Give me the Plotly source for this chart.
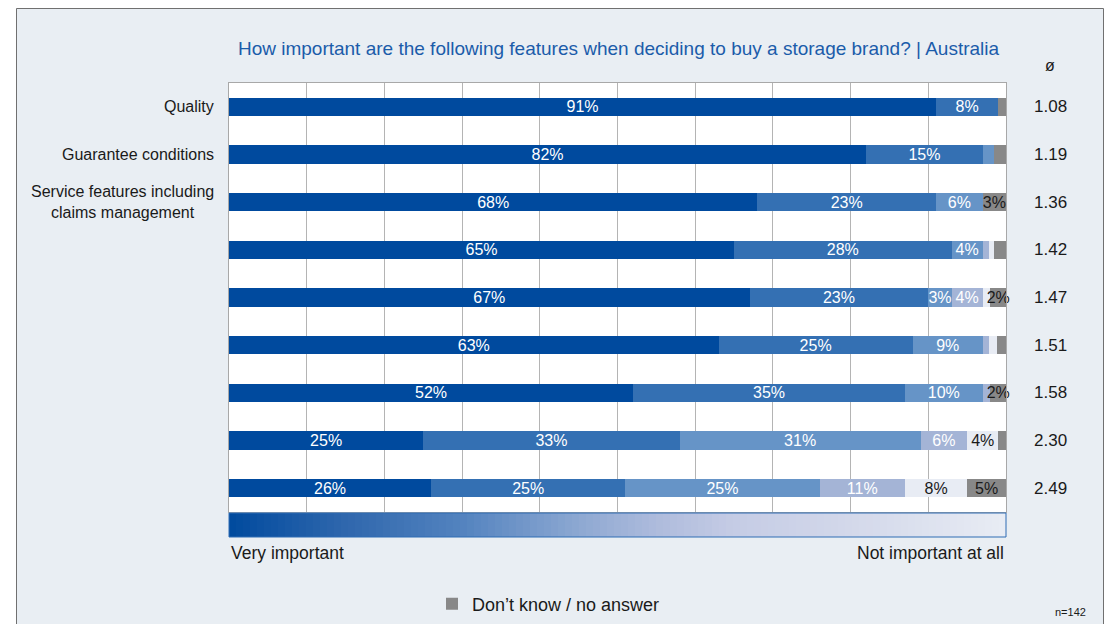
import plotly.graph_objects as go

# Survey data (share of respondents, %)
features = ["Quality", "Guarantee conditions",
            "Service features including<br>claims management",
            "", "", "", "", "", ""]
very_important = [91, 82, 68, 65, 67, 63, 52, 25, 26]
level_2 = [8, 15, 23, 28, 23, 25, 35, 33, 25]
level_3 = [0, 1.5, 6, 4, 3, 9, 10, 31, 25]
level_4 = [0, 0, 0, 0.8, 4, 0.8, 1, 6, 11]
not_important = [0, 0, 0, 0.7, 1, 1.0, 0, 4, 8]
dont_know = [1, 1.5, 3, 1.5, 2, 1.2, 2, 1, 5]
mean_scores = ["1.08", "1.19", "1.36", "1.42", "1.47", "1.51", "1.58", "2.30", "2.49"]

title_text = ("How important are the following features when deciding to buy "
              "a storage brand? | Australia")
legend_name = "Don\u2019t know / no answer"
sample_note = "n=142"

W, H = 1106, 624
L, R, T, B = 229, 100, 83, 112
PW, PH = W - L - R, H - T - B
FONT = "Liberation Sans, Arial, sans-serif"
PANEL = "#E9EEF3"


def xp(px):
    return (px - L) / PW


def yp(py):
    return (H - B - py) / PH


rows = list(range(len(features)))

series = [
    (very_important, "#004A9E", "white", "Very important"),
    (level_2, "#3470B3", "white", "2"),
    (level_3, "#6694C7", "white", "3"),
    (level_4, "#A4B4D6", "white", "4"),
    (not_important, "#E8ECF4", "#1a1a1a", "Not important at all"),
    (dont_know, "#888888", "#1a1a1a", legend_name),
]

fig = go.Figure()
for vals, color, tcolor, name in series:
    fig.add_trace(go.Bar(
        x=vals, y=rows, orientation="h", name=name,
        marker=dict(color=color, line=dict(width=0)),
        text=[f"{v:.0f}%" if v >= 2 else "" for v in vals],
        textposition="inside", insidetextanchor="middle", textangle=0,
        textfont=dict(family=FONT, size=16, color=tcolor),
        cliponaxis=False,
        showlegend=(name == legend_name),
        hoverinfo="skip",
    ))

fig.update_layout(
    width=W, height=H,
    margin=dict(l=L, r=R, t=T, b=B, pad=0, autoexpand=False),
    barmode="stack", bargap=0.615,
    paper_bgcolor=PANEL, plot_bgcolor="white",
    font=dict(family=FONT, size=16, color="#1a1a1a"),
    uniformtext=dict(minsize=16, mode="show"),
    title=dict(text=title_text, x=xp(618.5), xref="paper", xanchor="center",
               y=1 - 48 / H, yanchor="middle",
               font=dict(family=FONT, size=19, color="#1B5CAA")),
    xaxis=dict(range=[0, 100], dtick=10, showgrid=True, gridcolor="#B4B4B4",
               gridwidth=1, showticklabels=False, zeroline=False,
               showline=True, linecolor="#A8A8A8", mirror=True, ticks=""),
    yaxis=dict(range=[len(features) - 0.5, -0.5], showticklabels=False,
               showgrid=False, zeroline=False, showline=True,
               linecolor="#A8A8A8", mirror=True, ticks=""),
    legend=dict(orientation="h", x=xp(432), y=yp(604), xanchor="left",
                yanchor="middle", bgcolor="rgba(0,0,0,0)",
                font=dict(family=FONT, size=18, color="#1a1a1a"),
                itemwidth=30),
)

# Category labels and mean scores
for i, (lab, m) in enumerate(zip(features, mean_scores)):
    if lab:
        fig.add_annotation(x=xp(216), y=i, xref="paper", yref="y", text=lab,
                           xanchor="right", yanchor="middle", align="center",
                           showarrow=False, font=dict(size=16, color="#1a1a1a"))
    fig.add_annotation(x=xp(1050), y=i, xref="paper", yref="y", text=m,
                       xanchor="center", yanchor="middle", showarrow=False,
                       font=dict(size=17, color="#1a1a1a"))

fig.add_annotation(x=xp(1050), y=yp(65), xref="paper", yref="paper", text="\u00f8",
                   xanchor="center", yanchor="middle", showarrow=False,
                   font=dict(size=16, color="#1a1a1a"))

# Scale labels under the gradient bar
fig.add_annotation(x=xp(229), y=yp(553), xref="paper", yref="paper",
                   text="Very important", xanchor="left", yanchor="middle",
                   showarrow=False, font=dict(size=17.5, color="#1a1a1a"))
fig.add_annotation(x=xp(1006), y=yp(553), xref="paper", yref="paper",
                   text="Not important at all", xanchor="right", yanchor="middle",
                   showarrow=False, font=dict(size=17.5, color="#1a1a1a"))
fig.add_annotation(x=xp(1088), y=yp(612), xref="paper", yref="paper",
                   text=sample_note, xanchor="right", yanchor="middle",
                   showarrow=False, font=dict(size=11, color="#1a1a1a"))

# Gradient scale bar (very important -> not important at all)
stops = [(0.0, (0, 74, 158)), (0.15, (47, 103, 173)), (0.30, (83, 131, 191)),
         (0.45, (141, 168, 210)), (0.55, (174, 187, 220)), (0.65, (197, 204, 229)),
         (0.80, (211, 216, 234)), (1.0, (232, 236, 244))]


def grad_color(t):
    for (t0, c0), (t1, c1) in zip(stops[:-1], stops[1:]):
        if t <= t1:
            f = (t - t0) / (t1 - t0)
            return "rgb({},{},{})".format(*[round(a + (b - a) * f) for a, b in zip(c0, c1)])
    return "rgb({},{},{})".format(*stops[-1][1])


gx0, gx1, gy0, gy1 = 229, 1006, 513, 537
n = 111
step = (gx1 - gx0) / n
shapes = []
for k in range(n):
    shapes.append(dict(type="rect", xref="paper", yref="paper",
                       x0=xp(gx0 + k * step), x1=xp(gx0 + (k + 1) * step + 0.6),
                       y0=yp(gy1), y1=yp(gy0), line=dict(width=0),
                       fillcolor=grad_color((k + 0.5) / n), layer="above"))
shapes.append(dict(type="rect", xref="paper", yref="paper",
                   x0=xp(gx0), x1=xp(gx1), y0=yp(gy1), y1=yp(gy0),
                   line=dict(width=1, color="#2E6DB4"), fillcolor="rgba(0,0,0,0)",
                   layer="above"))

# Outer frame of the panel
for x0, x1, y0, y1 in [(0, 16, 0, H), (0, W, 0, 8), (1103.5, W, 0, H)]:
    shapes.append(dict(type="rect", xref="paper", yref="paper",
                       x0=xp(x0), x1=xp(x1), y0=yp(y1), y1=yp(y0),
                       line=dict(width=0), fillcolor="white", layer="above"))
shapes.append(dict(type="rect", xref="paper", yref="paper",
                   x0=xp(16.5), x1=xp(1103.5), y0=yp(H + 10), y1=yp(8.5),
                   line=dict(width=1, color="#707070"), fillcolor="rgba(0,0,0,0)",
                   layer="above"))
fig.update_layout(shapes=shapes)

fig.write_html("out.html")
